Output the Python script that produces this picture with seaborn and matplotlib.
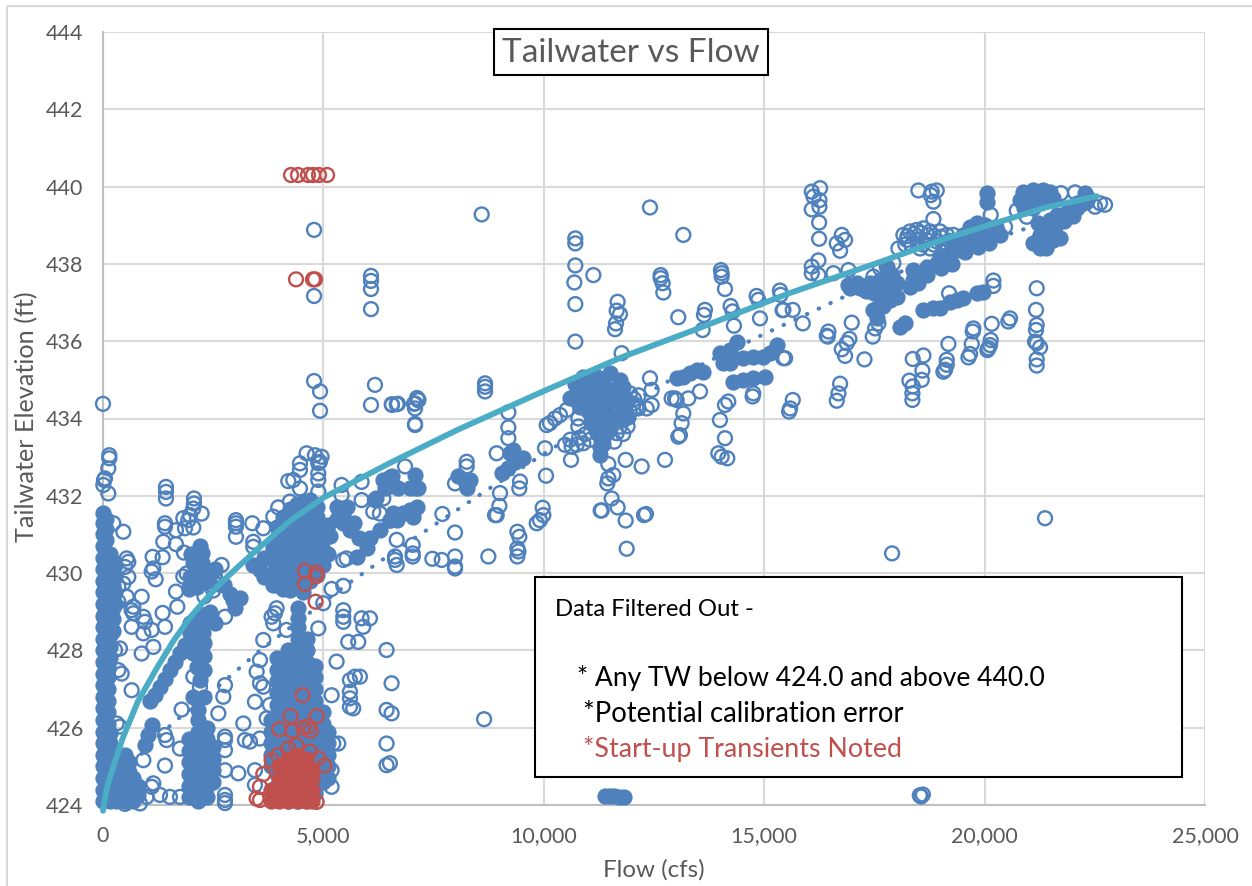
import matplotlib
matplotlib.use("Agg")
import matplotlib.pyplot as plt
from matplotlib.lines import Line2D
from matplotlib.patches import Rectangle
from matplotlib.ticker import FuncFormatter
import seaborn as sns

# Open circles, (flow cfs, tailwater ft)
open_left = [
    (143,433.05),(143,432.97),(120,432.71),(23,432.41),(7,432.28),(45,432.45),(120,432.06),(461,431.07),
    (234,431.29),(537,430.38),(574,430.29),(499,430.16),(574,429.9),(461,429.73),(348,429.65),(537,429.39),
    (348,429.26),(688,429.13),(650,429.04),(688,428.96),(650,428.61),(877,429.39),(915,428.87),(952,428.74),
    (915,428.44),(1104,428.53),(1353,428.97),(1406,428.61),(1141,428.09),(877,427.92),(385,428.05),(272,428.01),
    (650,426.97),(348,427.49),(423,427.4),(310,426.11),(385,426.03),(915,425.16),(1104,424.47),(1141,424.56),
    (990,424.21),(839,424.04),(499,424.03),(1293,424.26),(1519,424.21),(1746,424.21),(1406,425.02),(1746,425.46),
    (1406,425.81),(1444,425.68),(1784,426.47),(1429,432.23),(1429,432.1),(1429,431.93),(1406,431.29),(1406,431.2),
    (1655,431.11),(1368,430.81),(1655,430.75),(1837,430.53),(1126,430.42),(1353,430.41),(1141,430.12),(1104,430.04),
    (1194,429.84),(1655,429.52),(1686,429.13),(2064,431.93),(2064,431.8),(2049,431.67),(2238,431.54),(1973,431.5),
    (1822,431.42),(1935,431.37),(2049,431.18),(1860,431.16),(1897,429.99),(1973,429.65),(1822,429.91),(2427,430.04),
    (2691,430.21),(2540,429.91),(2767,428.87),(3016,431.37),(3016,431.29),(3016,431.2),(3016,430.94),(3387,431.29),
    (3636,431.16),(3863,431.46),(3976,431.7),(4241,431.85),(3409,430.81),(3409,430.68),(2767,425.77),(2767,425.68),
    (2767,425.42),(2767,424.9),(3069,424.82),(3183,426.11),(3220,425.68),(3334,425.64),(3561,425.72),(3447,424.9),
    (3447,424.52),(2767,424.26),(2767,424.13),(2767,424.05),(2616,426.37),(2729,426.8),(2767,427.1),(2200,427.06),
    (2049,427.32),(3636,428.27),(3561,427.75),(3485,427.45),(3561,427.15),(3636,427.06),(3447,426.67),(3787,426.59),
    (3712,426.24),(3863,428.7),(3901,428.96),(3825,428.87),(3939,429.09),(4165,428.53),(2300,429.4),(2500,429.55),
    (2650,429.7),
]
open_mid = [
    (5299,427.71),(5186,426.84),(4846,426.28),(5337,425.59),(5224,425.59),(5186,424.9),(5186,424.47),(5602,427.23),
    (5715,427.32),(5829,427.32),(5602,426.93),(5602,426.76),(5602,426.54),(5677,426.5),(5564,428.22),(5791,428.22),
    (5451,429.04),(5451,428.87),(5451,428.74),(5866,428.83),(5904,428.61),(6055,428.83),(5451,429.67),(5186,429.59),
    (4884,428.57),(4997,429.22),(5526,430.38),(5451,430.34),(6433,428.01),(6547,427.15),(6433,426.46),(6547,426.37),
    (6433,425.59),(6433,425.03),(6509,425.08),(5866,431.89),(6169,431.89),(6131,431.59),(6282,431.54),(6358,431.93),
    (5413,432.28),(5413,432.02),(5866,432.36),(4619,433.1),(4808,433.05),(4959,433.01),(4921,432.88),(4468,432.84),
    (4468,432.67),(4317,432.41),(4203,432.38),(4468,432.19),(4884,432.58),(4884,432.41),(4884,432.11),(4884,432.84),
    (0,434.38),(4788,434.97),(4924,434.7),(4924,434.2),(4788,438.88),(4788,437.17),(6170,434.87),(6080,434.35),
    (6080,437.69),(6080,437.56),(6080,437.35),(6080,436.83),(6557,434.35),(6690,434.38),(7056,434.38),(7147,434.48),
    (7124,434.53),(7079,433.86),(8645,426.22),
]
open_center = [
    (8591,439.28),(12409,439.46),(13165,438.75),(10715,438.66),(10715,438.53),(10715,437.96),(11124,437.71),
    (10693,437.52),(10715,436.96),(10715,435.99),(11675,437.02),(11653,436.79),(11728,436.7),(11638,436.46),
    (11615,436.31),(11766,435.69),(12651,437.71),(12651,437.63),(12696,437.5),(12711,437.26),(13051,436.62),
    (14019,437.84),(14034,437.76),(14034,437.67),(14110,437.35),(14238,436.91),(14284,436.77),(14314,436.4),
    (13656,436.81),(13633,436.68),(13603,436.29),(14828,437.17),(14866,437.07),(14904,436.59),(15357,437.31),
    (15372,437.2),(15417,436.8),(12409,435.04),(12447,434.74),(12447,434.35),(13543,434.7),(13278,434.52),
    (14185,434.44),(14110,434.35),(13996,433.96),(14110,433.49),(13959,433.1),(14034,433.01),(14163,432.97),
    (14752,434.65),(14737,434.57),(15433,435.56),(12976,434.52),(12900,434.52),(13014,434.48),(13165,434.13),
    (13127,433.88),(13089,433.57),(13051,433.53),(12749,432.93),(12220,432.76),(11857,432.93),(11464,432.82),
    (11577,432.54),(11464,432.45),(11441,432.32),(11539,431.93),(11675,431.7),(11857,431.36),(11313,431.62),
    (11290,431.62),(12273,431.5),(12318,431.53),(11880,430.63),(10783,434.0),(10783,433.79),(10617,432.93),
    (10027,433.23),(10050,432.52),(9974,431.69),(9990,431.5),(9914,431.37),(9838,431.29),(9400,431.07),(9445,430.94),
    (9400,430.64),(9423,430.56),(9400,430.43),(9460,432.37),(9445,432.19),(9196,434.16),(9196,433.77),(9196,433.49),
    (9007,432.07),(8992,431.74),(8931,431.5),(8893,431.5),(8931,433.1),(8667,434.91),(8667,434.82),(8667,434.7),
    (7079,433.83),(7079,434.26),(7155,434.48),(7079,434.39),(6663,434.37),(6550,434.37),(6852,432.76),(8251,432.88),
    (8251,432.76),(7986,432.32),(7699,431.53),(7986,431.05),(8742,430.43),(7986,430.43),(7684,430.34),(7472,430.37),
    (7986,430.17),(7986,430.12),(6663,430.86),(7026,430.73),(7026,430.51),(7026,430.43),(6625,430.43),(6625,430.34),
    (6663,430.21),(10141,433.88),(10065,433.83),(10254,434.0),(10368,434.09),(10519,434.22),(10481,433.32),
    (10632,433.27),(10745,433.32),(10897,433.36),(12031,434.39),(12144,434.26),(12333,434.26),(11955,434.65),
    (11804,433.96),(11728,433.79),(11653,433.62),(11900,434.4),(12050,434.5),(12150,434.6),(11950,434.2),
    (12100,434.3),(11850,434.0),(11900,433.8),(11800,433.6),(11600,433.4),(10600,433.45),(10800,433.5),
    (10950,433.6),(11050,433.45),
]
open_right = [
    (16268,439.96),(16079,439.87),(16117,439.74),(16253,439.65),(16079,439.41),(16253,439.48),(16246,439.07),
    (16246,438.65),(16230,438.09),(16079,437.93),(16079,437.76),(16230,437.71),(16571,437.76),(16911,437.84),
    (16760,438.75),(16646,438.53),(16722,438.34),(16835,438.62),(15648,436.81),(15437,436.81),(15875,436.46),
    (16457,436.25),(16442,436.12),(16419,436.14),(16986,436.48),(16933,436.06),(16873,435.95),(16760,435.79),
    (16835,435.62),(17274,435.53),(17463,436.12),(17516,436.33),(17591,436.46),(16722,434.9),(16684,434.65),
    (16646,434.46),(15648,434.48),(15588,434.26),(15565,434.18),(15474,435.56),(18498,439.9),(18778,439.78),
    (18839,439.61),(18914,439.9),(18801,439.87),(18839,439.16),(18370,435.54),(18612,435.63),(18589,435.24),
    (18574,435.0),(18294,434.98),(18370,434.83),(18362,434.65),(18362,434.48),(19179,435.93),(19141,435.52),
    (19141,435.39),(19103,435.26),(19065,435.21),(19708,435.93),(19670,435.67),(19633,435.58),(19746,436.33),
    (19731,436.25),(20162,436.45),(20139,436.03),(20124,435.9),(20063,435.77),(20086,435.82),(20577,436.59),
    (20539,436.51),(20199,437.57),(20199,437.43),(19194,437.24),(21182,437.37),(21167,436.81),(21182,436.42),
    (21167,436.29),(21144,435.99),(21182,435.95),(21258,435.84),(21182,435.53),(21182,435.37),(21371,431.42),
    (17901,430.51),(20139,439.27),(21734,439.83),(20729,439.38),(20464,438.96),(20955,439.22),(22052,439.85),
    (22619,439.57),(22732,439.53),(22505,439.48),(18158,438.75),(18309,438.84),(18461,438.88),(18612,438.92),
    (18763,438.84),(18990,438.84),(19141,438.75),(19292,438.75),(18234,438.62),(18461,438.62),(18687,438.62),
    (18914,438.58),(18536,438.4),(18763,438.4),(19065,438.4),(18045,438.4),(17629,437.89),(17780,437.93),
    (17931,438.02),(17478,437.67),(18530,424.25),(18600,424.27),(18560,424.22),(18250,438.72),(18400,438.78),
    (18550,438.8),(18700,438.75),(18850,438.72),(19000,438.7),(19200,438.6),(18350,438.5),(18600,438.5),
    (18850,438.5),(19100,438.55),(18200,438.5),
]

# Solid clusters, too dense to read single points: (flow, elevations)
dense_columns = [
    (0, [424.1,424.4,424.7,425.0,425.3,425.6,425.9,426.2,426.5,426.8,427.1,427.4,427.7,428.0,428.3,428.6,
         428.9,429.2,429.5,429.8,430.1,430.4,430.7,431.0,431.3,431.55]),
    (60, [424.25,424.55,424.85,425.15,425.45,425.75,426.05,426.35,426.65,426.95,427.25,427.55,427.85,428.15,428.45,
          428.75,429.05,429.35,429.65,429.95,430.25,430.55,430.85,431.15,431.4]),
    (110, [426.1,426.4,426.7,427.0,427.3,427.6]),
    (160, [424.1,424.4,424.7,425.0,425.3,425.6,425.85,427.8,428.1,428.4,428.7,429.0,429.3,429.6,429.9,430.2,430.5]),
    (220, [428.5,428.8,429.1,429.4,429.7,430.0,430.3]),
    (280, [429.2,429.5,429.9,430.2]),
    (300, [424.1,424.4,424.7,425.0]),
    (400, [424.25,424.55,424.85,425.15]),
    (500, [424.1,424.4,424.7,425.0,425.3]),
    (600, [424.25,424.55,424.85,425.1]),
    (680, [424.1,424.4,424.7]),
    (800, [424.25,424.5]),
    (1950, [424.2,424.5,424.8,425.1,425.4,425.7]),
    (2150, [424.1,424.4,424.7,425.0,425.3,425.6,425.9,426.2,426.45]),
    (2350, [424.2,424.5,424.8,425.1,425.4,425.7,426.0]),
    (2500, [424.6,424.9,425.2,425.5]),
    (3800, [425.0,425.3,425.6,425.9,426.2]),
    (3950, [424.5,424.8,425.1,425.4,425.7,426.0,426.3,426.6,426.9,427.2,427.5,427.8]),
    (4200, [424.1,424.4,424.7,425.0,425.3,425.6,425.9,426.2,426.5,426.8,427.1,427.4,427.7,428.0]),
    (4420, [424.1,424.4,424.7,425.0,425.3,425.6,425.9,426.2,426.5,426.8,427.1,427.4,427.7,428.0,428.3,428.6,428.85,429.1]),
    (4620, [424.1,424.4,424.7,425.0,425.3,425.6,425.9,426.2,426.5,426.8,427.1,427.4,427.7,428.0,428.3]),
    (4820, [424.3,424.6,424.9,425.2,425.5,425.8,426.1,426.4,426.7,427.0,427.3,427.6]),
    (5000, [424.6,424.9,425.2,425.5,425.8,426.1,426.4]),
    (5100, [424.7,425.0,425.3,425.6,425.9]),
    (3560, [430.08]),
    (3860, [430.34,430.0,429.7]),
    (3950, [430.9,431.2,430.6,430.3,430.0,429.7]),
    (4090, [431.46,431.1,430.8,430.5,430.2,429.9,429.6]),
    (4240, [431.65,431.35,431.05,430.75,430.45,430.15,429.85,429.55]),
    (4390, [431.8,431.5,431.2,430.9,430.6,430.3,430.0,429.7]),
    (4540, [431.85,431.55,431.25,430.95,430.65,430.35,430.05,429.75,429.5]),
    (4695, [431.9,431.6,431.3,431.0,430.7,430.4,430.1,429.8]),
    (4850, [431.7,431.45,431.15,430.85,430.55,430.25,429.95]),
    (5000, [430.85,430.6,430.2]),
]
dense_left = [
    (952,425.55),(1028,425.81),(1104,426.07),(1066,426.7),(1293,427.06),(1519,427.49),(1746,427.92),(1973,428.44),
    (2200,428.7),(2427,428.78),(2275,428.44),(2049,427.92),(2124,427.58),(2200,427.23),(2238,430.51),(2238,430.25),
    (2124,429.9),(1973,429.9),(2351,430.0),(2124,429.65),(2956,429.3),(2880,429.47),(1180,426.85),(1400,427.25),
    (1630,427.7),(1860,428.15),(1973,428.7),(2200,428.95),(2427,429.0),(2550,428.7),(2100,428.2),(2300,428.2),
    (2300,427.85),(2300,427.5),(2050,426.8),(2300,426.8),(1950,429.6),(2150,430.0),(2050,430.25),(2200,430.7),
    (2000,430.5),(2400,429.8),(2550,430.1),(2750,429.7),(3000,429.1),(3100,429.35),(3400,430.2),(3650,430.4),
    (3650,429.9),(3850,430.65),
]
dense_mid = [
    (5451,431.54),(5602,431.11),(5299,431.7),(5526,431.7),(5753,430.42),(5980,430.64),(6055,430.9),(6282,431.11),
    (6509,431.37),(6358,432.41),(6509,432.49),(6588,431.55),(6663,431.37),(6966,431.63),(7041,431.46),(7117,431.72),
    (6814,431.55),(6512,431.37),(6550,432.5),(7079,432.19),(6966,432.19),(7155,432.19),(7079,432.54),(8213,432.37),
    (8251,432.19),(8062,432.5),(8326,432.41),(9045,432.58),(9196,432.71),(9347,432.88),(9536,432.97),(9234,433.1),
    (9309,433.19),(9423,432.97),(5100,431.25),(5150,430.95),(5100,430.5),(5451,431.3),(5700,431.3),(5300,431.4),
    (5800,430.9),(6200,431.95),(6400,432.2),(6500,432.25),(6700,432.2),
]
dense_center = [
    (10594,434.52),(10745,434.65),(10972,434.82),(11199,435.08),(11502,435.17),(11728,434.99),(11804,434.82),
    (11048,434.48),(11350,434.48),(11653,434.48),(11199,434.05),(11426,434.05),(11653,434.05),(11199,433.62),
    (11426,433.62),(11275,433.27),(11275,433.06),(10897,435.08),(11199,434.74),(11502,434.74),(10821,434.31),
    (11124,434.31),(11426,434.31),(11390,424.22),(11500,424.22),(11600,424.22),(11700,424.2),(11820,424.2),
    (13013,435.04),(13165,435.08),(13316,435.17),(13467,435.26),(13618,435.21),(14072,435.6),(14223,435.77),
    (14374,435.99),(14223,435.43),(14072,435.43),(13996,435.69),(14526,435.56),(14752,435.6),(14979,435.6),
    (15130,435.69),(15282,435.9),(14299,434.95),(14526,434.99),(14752,435.04),(15017,435.08),(10700,434.9),
    (10900,434.6),(11050,435.0),(11350,435.0),(11650,434.8),(11000,434.2),(11300,433.9),(11200,434.5),
    (11500,434.5),(11800,434.55),(11350,433.35),(11100,433.85),(11500,433.85),(11300,433.45),(11800,434.25),
    (11900,434.05),
]
dense_right = [
    (16949,437.37),(17175,437.37),(17402,437.5),(17629,437.58),(17780,437.93),(17856,437.41),(18007,437.5),
    (17856,437.07),(17705,436.9),(17553,436.85),(18007,437.15),(18083,436.38),(18196,436.46),(18385,437.58),
    (18536,437.76),(18687,437.93),(18914,438.02),(19141,438.19),(19368,438.36),(19595,438.53),(19821,438.71),
    (20048,438.75),(20275,438.84),(19821,439.05),(19670,438.96),(19368,438.53),(18990,438.19),(18385,437.84),
    (18612,436.81),(18839,436.85),(18990,436.87),(19217,437.02),(19368,437.07),(19519,437.11),(19821,437.24),
    (19973,437.28),(20880,439.87),(21107,439.91),(21333,439.91),(21485,439.87),(20955,439.65),(21182,439.65),
    (20048,439.83),(20048,439.61),(21182,438.58),(21333,438.58),(21560,438.62),(21711,438.66),(21258,438.75),
    (21409,438.88),(21485,439.14),(21636,439.27),(21863,439.35),(22089,439.57),(22278,439.83),(22354,439.7),
    (21220,439.05),(20800,439.65),(21000,439.8),(21250,439.8),(21400,439.7),(21550,439.7),(20900,439.45),
    (21100,439.45),(19250,438.45),(19500,438.75),(19750,438.85),(20000,439.0),(20250,438.95),(20350,438.75),
    (20100,438.55),(19850,438.45),(19550,438.3),(19250,438.0),(19000,437.9),(18700,437.7),(18500,437.5),
    (18300,437.4),(21400,438.4),(21250,438.4),(21100,438.55),(21600,438.95),(21800,439.1),(22000,439.25),
    (22100,439.45),(22300,439.6),(16900,437.45),(17100,437.5),(17300,437.3),(17500,437.25),(17700,437.2),
    (17650,437.45),(17750,437.65),(17900,437.7),(17478,436.8),(17560,436.6),
]

# Points flagged as start-up transients
transient_open = [
    (4266,440.3),(4424,440.3),(4650,440.3),(4765,440.3),(4900,440.3),(5083,440.3),(4379,437.6),(4765,437.6),(4810,437.6),
    (4581,430.06),(4846,430.01),(4831,429.92),(4581,429.72),(4823,429.26),(4528,426.84),(4256,426.3),(4846,426.3),
    (4000,425.96),(4294,425.92),(4543,426.0),(4657,426.03),(4710,425.92),(5020,425.02),(3636,424.8),(3825,425.16),
    (3976,425.29),(4203,425.46),(4695,425.38),(4884,425.21),(3561,424.47),(3485,424.17),(3561,424.13),(4846,424.08),
    (4392,425.55),
]
transient_columns = [
    (3800, [424.1,424.4]),
    (4000, [424.1,424.4,424.7,425.0]),
    (4200, [424.1,424.4,424.7,425.0,425.2]),
    (4400, [424.1,424.4,424.7,425.0,425.3]),
    (4600, [424.1,424.4,424.7,425.0,425.2]),
    (4750, [424.1,424.4,424.7,424.9]),
]

# Trend lines
fit_flow = [0,40,100,250,454,800,1225,1600,1973,2350,2722,3100,3490,4240,5000,6510,8030,9980,11800,13320,15590,17630,19150,21420,22550]
fit_elev = [423.85,424.15,424.5,425.05,425.75,426.7,427.55,428.25,428.85,429.35,429.8,430.2,430.6,431.35,431.95,432.85,433.7,434.7,435.6,436.25,437.25,438.05,438.67,439.47,439.75]
dot_flow = [0,500,1565,2700,3560,5530,6280,7260,8780,10370,12800,14840,15590,16720,18500,20500,21030,22550]
dot_elev = [424.0,424.9,426.1,427.15,428.0,429.7,430.3,431.05,432.2,433.35,434.95,436.1,436.5,437.1,438.0,438.75,438.95,439.5]

x_ticks = [0,5000,10000,15000,20000,25000]
y_ticks = [424,426,428,430,432,434,436,438,440,442,444]

BLUE = "#4f81bd"
RED = "#c0504d"
TEAL = "#4bacc6"
GREY = "#595959"
FONT = "Lato"


def expand(columns):
    """Turn (flow, [elevations]) columns into point pairs"""
    return [(f, e) for f, elevs in columns for e in elevs]


def draw_points(ax, points, color, filled, z):
    """Draw circles through seaborn, hollow unless filled is set"""
    xs = [p[0] for p in points]
    ys = [p[1] for p in points]
    sns.scatterplot(x=xs, y=ys, ax=ax, color=color, s=100, linewidth=1.7, legend=False)
    pts = ax.collections[-1]
    pts.set_facecolor(color if filled else "none")
    pts.set_edgecolor(color)
    pts.set_zorder(z)
    pts.set_clip_on(False)


sns.set_theme(style="whitegrid")
plt.rcParams["font.family"] = [FONT, "DejaVu Sans"]

fig = plt.figure(figsize=(12.52, 8.86), dpi=100)
ax = fig.add_axes([103 / 1252, 1 - 805 / 886, 1102 / 1252, 773 / 886])

draw_points(ax, open_left + open_mid + open_center + open_right, BLUE, False, 3)
draw_points(ax, expand(dense_columns) + dense_left + dense_mid + dense_center + dense_right, BLUE, True, 3)
draw_points(ax, transient_open, RED, False, 4)
draw_points(ax, expand(transient_columns), RED, True, 4)

sns.lineplot(x=dot_flow, y=dot_elev, ax=ax, color=BLUE, linewidth=3, sort=False, estimator=None,
             linestyle=(0, (0.1, 3.0)), dash_capstyle="round", zorder=3.5)
sns.lineplot(x=fit_flow, y=fit_elev, ax=ax, color=TEAL, linewidth=4.2, sort=False, estimator=None,
             zorder=5, clip_on=False, solid_capstyle="round")

ax.set_xlim(0, 25000)
ax.set_ylim(424, 444)
ax.set_xticks(x_ticks)
ax.set_yticks(y_ticks)
ax.xaxis.set_major_formatter(FuncFormatter(lambda v, _: f"{int(v):,}"))
ax.grid(True, color="#d9d9d9", linewidth=1.5)
ax.set_axisbelow(True)
ax.tick_params(axis="x", length=0, labelsize=15.5, labelcolor=GREY, pad=15)
ax.tick_params(axis="y", length=0, labelsize=15.5, labelcolor=GREY, pad=14)
for side in ["top", "right"]:
    ax.spines[side].set_visible(False)
for side in ["left", "bottom"]:
    ax.spines[side].set_color("#bfbfbf")
    ax.spines[side].set_linewidth(1.5)
ax.set_xlabel("")
ax.set_ylabel("")

# Outer chart frame, only its top and left edge show in the picture
fig.add_artist(Line2D([7 / 1252, 7 / 1252, 1], [0, 1 - 6 / 886, 1 - 6 / 886], transform=fig.transFigure,
                      color="#d9d9d9", linewidth=1.5))

fig.text(654 / 1252, 1 - 870 / 886, "Flow (cfs)", ha="center", va="center", fontsize=17.4, color=GREY)
fig.text(27 / 1252, 1 - 417 / 886, "Tailwater Elevation (ft)", ha="center", va="center", rotation=90,
         fontsize=18.2, color=GREY)

# Title box and the note box sit on top of everything
for x0, y0, x1, y1 in [(494, 29, 768, 75), (535, 577, 1182, 777)]:
    fig.add_artist(Rectangle((x0 / 1252, 1 - y1 / 886), (x1 - x0) / 1252, (y1 - y0) / 886,
                             transform=fig.transFigure, facecolor="white", edgecolor="black",
                             linewidth=1.5, zorder=10))
fig.text(631 / 1252, 1 - 53 / 886, "Tailwater vs Flow", ha="center", va="center", fontsize=24, color=GREY, zorder=11)
fig.text(555 / 1252, 1 - 609 / 886, "Data Filtered Out -", va="center", fontsize=17.2, color="black", zorder=11)
fig.text(577 / 1252, 1 - 678 / 886, "* Any TW below 424.0 and above 440.0", va="center", fontsize=19.1, color="black", zorder=11)
fig.text(583 / 1252, 1 - 714 / 886, "*Potential calibration error", va="center", fontsize=19.8, color="black", zorder=11)
fig.text(583 / 1252, 1 - 749 / 886, "*Start-up Transients Noted", va="center", fontsize=19.3, color=RED, zorder=11)

fig.savefig("out.png", dpi=100)
plt.close(fig)
